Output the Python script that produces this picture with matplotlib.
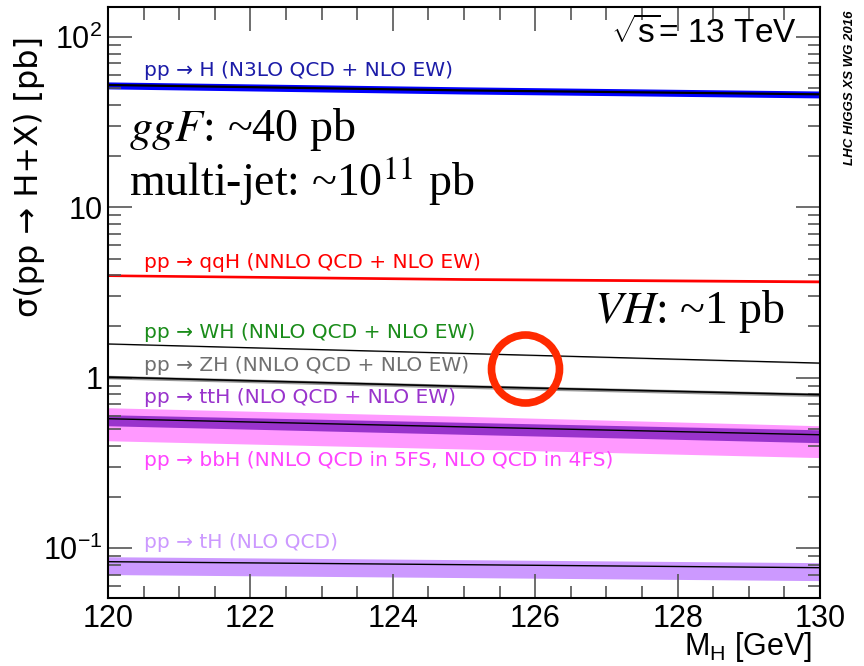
import numpy as np
import matplotlib.pyplot as plt
from matplotlib.patches import Circle
from matplotlib.ticker import MultipleLocator, LogLocator, NullFormatter

plt.rcParams['font.family'] = ['Liberation Sans', 'DejaVu Sans']
plt.rcParams['mathtext.fontset'] = 'custom'
plt.rcParams['mathtext.rm'] = 'Liberation Sans'

# Higgs mass points [GeV]
mh = [120, 125, 130]

# cross sections [pb]: central, band low, band high
ggf = [52.3, 48.6, 46.1]
ggf_lo = [49.6, 46.3, 43.9]
ggf_hi = [54.5, 51.0, 48.2]

vbf = [4.00, 3.80, 3.68]
vbf_lo = [3.93, 3.73, 3.61]
vbf_hi = [4.07, 3.87, 3.75]

wh = [1.58, 1.39, 1.22]
wh_lo = [1.57, 1.38, 1.21]
wh_hi = [1.59, 1.40, 1.23]

zh = [1.01, 0.89, 0.795]
zh_lo = [0.985, 0.867, 0.775]
zh_hi = [1.035, 0.913, 0.815]

tth = [0.575, 0.515, 0.463]
tth_lo = [0.523, 0.466, 0.416]
tth_hi = [0.607, 0.548, 0.495]

bbh_lo = [0.427, 0.382, 0.340]
bbh_hi = [0.667, 0.594, 0.523]

th = [0.0833, 0.0800, 0.0768]
th_lo = [0.0700, 0.0672, 0.0645]
th_hi = [0.0891, 0.0856, 0.0822]

labels = ["pp \u2192 H (N3LO QCD + NLO EW)",
          "pp \u2192 qqH (NNLO QCD + NLO EW)",
          "pp \u2192 WH (NNLO QCD + NLO EW)",
          "pp \u2192 ZH (NNLO QCD + NLO EW)",
          "pp \u2192 ttH (NLO QCD + NLO EW)",
          "pp \u2192 bbH (NNLO QCD in 5FS, NLO QCD in 4FS)",
          "pp \u2192 tH (NLO QCD)"]
label_y = [64, 4.73, 1.84, 1.18, 0.763, 0.326, 0.108]
label_col = ["#1c1ca8", "#ff0000", "#1a8c1a", "#707070", "#9933cc", "#ff44ff", "#cc99ff"]

yticks = [0.1, 1, 10, 100]
ytick_labels = ["$10^{-1}$", "1", "10", "$10^{2}$"]

fig = plt.figure(figsize=(8.64, 6.66), dpi=100)
ax = fig.add_axes([108 / 864, 1 - 598 / 666, 712 / 864, 591 / 666])
ax.set_yscale('log')

# bands
ax.fill_between(mh, th_lo, th_hi, color="#cc99ff", lw=0)
ax.plot(mh, th, color="k", lw=1)
ax.fill_between(mh, bbh_lo, bbh_hi, color="#ff99ff", lw=0)
ax.fill_between(mh, tth_lo, tth_hi, color="#9933cc", lw=0)
ax.plot(mh, tth, color="k", lw=1)
ax.fill_between(mh, zh_lo, zh_hi, color="#999999", lw=0)
ax.plot(mh, zh, color="k", lw=1.2)
ax.fill_between(mh, wh_lo, wh_hi, color="#aaaaaa", lw=0)
ax.plot(mh, wh, color="k", lw=0.9)
ax.fill_between(mh, vbf_lo, vbf_hi, color="#ff0000", lw=0)
ax.fill_between(mh, ggf_lo, ggf_hi, color="#0000ff", lw=0)
ax.plot(mh, ggf, color="k", lw=1.6)

for t, y, c in zip(labels, label_y, label_col):
    ax.text(120.5, y, t, color=c, fontsize=14.5, va='center', ha='left', family='DejaVu Sans')

ax.set_xlim(120, 130)
ax.set_ylim(0.051, 150)
ax.set_xticks([120, 122, 124, 126, 128, 130])
ax.xaxis.set_minor_locator(MultipleLocator(0.5))
ax.set_yticks(yticks)
ax.set_yticklabels(ytick_labels)
ax.yaxis.set_minor_locator(LogLocator(base=10, subs=np.arange(2, 10)))
ax.yaxis.set_minor_formatter(NullFormatter())
ax.tick_params(which='both', direction='in', top=True, right=True, width=1.2, color='#555555')
ax.tick_params(which='major', length=17, labelsize=22, pad=4)
ax.tick_params(which='minor', length=9)
for s in ax.spines.values():
    s.set_linewidth(1.5)

fig.text(812 / 864, 1 - 655 / 666, "M$_\\mathrm{H}$ [GeV]", fontsize=22, ha='right', va='baseline')
fig.text(30 / 864, 1 - 36 / 666, "\u03c3(pp \u2192 H+X) [pb]", fontsize=23, rotation=90,
         ha='center', va='top', family='DejaVu Sans')

ax.text(0.968, 0.955, "$\\sqrt{\\mathrm{s}}$= 13 TeV", transform=ax.transAxes, fontsize=24,
        ha='right', va='center')
fig.text(850 / 864, 1 - 88 / 666, "LHC HIGGS XS WG 2016", fontsize=9.5, rotation=90,
         fontweight='bold', style='italic', ha='center', va='center')

ax.text(0.03, 0.792, "$\\it{ggF}$: ~40 pb", transform=ax.transAxes, fontsize=33,
        family='Liberation Serif', va='center', ha='left', math_fontfamily='stix')
ax.text(0.03, 0.704, "multi-jet: ~10$^{11}$ pb", transform=ax.transAxes, fontsize=33,
        family='Liberation Serif', va='center', ha='left', math_fontfamily='stix')
ax.text(0.951, 0.484, "$\\it{VH}$: ~1 pb", transform=ax.transAxes, fontsize=33,
        family='Liberation Serif', va='center', ha='right', math_fontfamily='stix')

ring = Circle((5.255, (666 - 369) / 100), 0.34, transform=fig.dpi_scale_trans,
              fill=False, edgecolor='#ff2a00', lw=5.5)
fig.patches.append(ring)

plt.savefig("out.png", dpi=100)
